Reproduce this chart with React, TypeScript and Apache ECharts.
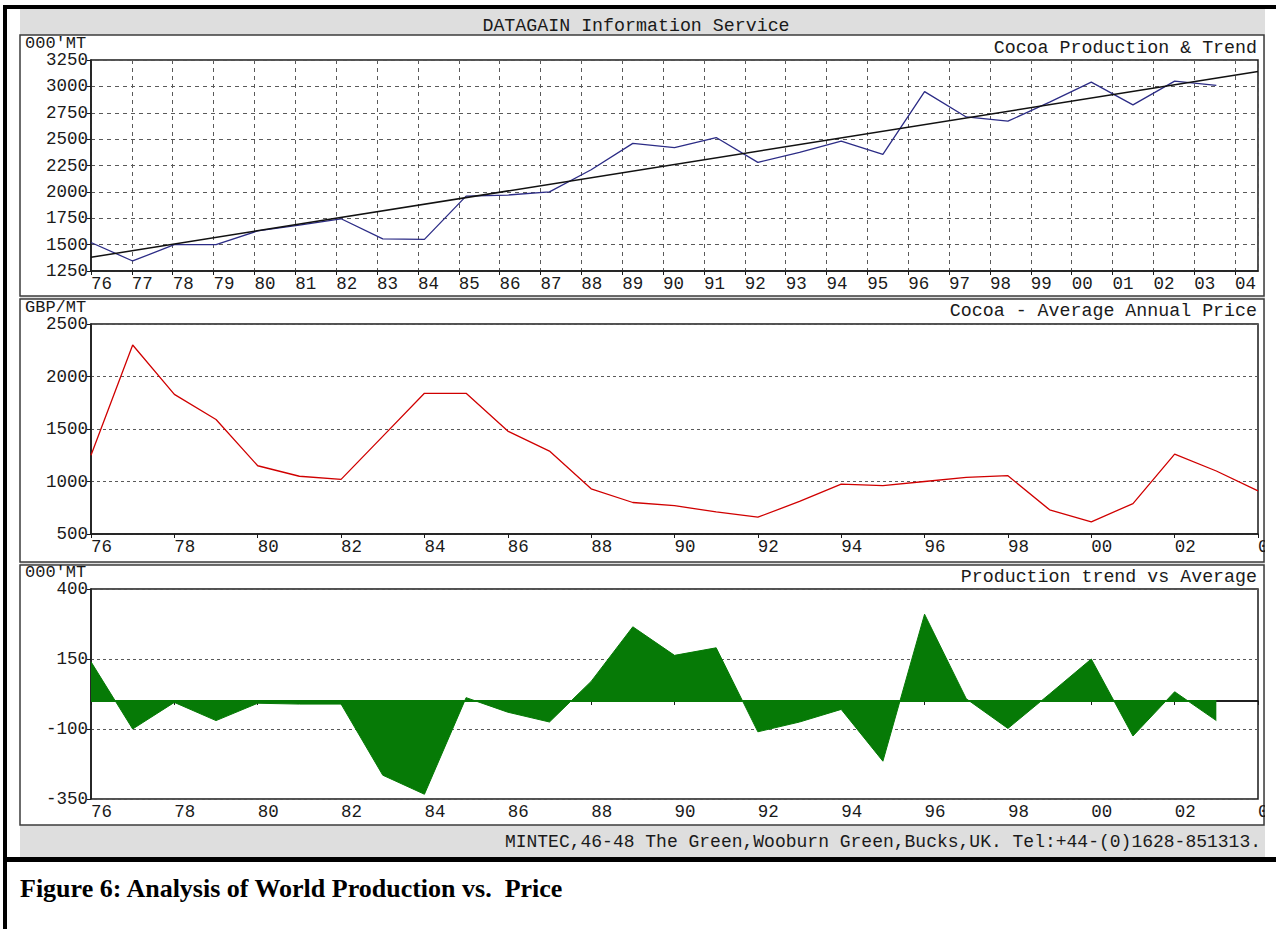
import { useEffect, useRef } from "react";
import * as echarts from "echarts";

// Crop years (last year of the production series is 2003, prices run to 2004)
const YEARS = [
  1976, 1977, 1978, 1979, 1980, 1981, 1982, 1983, 1984, 1985, 1986, 1987, 1988, 1989, 1990,
  1991, 1992, 1993, 1994, 1995, 1996, 1997, 1998, 1999, 2000, 2001, 2002, 2003, 2004,
];

// World cocoa production, '000 MT
const PRODUCTION = [
  1520, 1345, 1500, 1500, 1630, 1685, 1745, 1555, 1550, 1960, 1970, 2000, 2210, 2460,
  2420, 2515, 2280, 2375, 2480, 2355, 2950, 2710, 2670, 2850, 3040, 2825, 3050, 3010,
];

// Linear production trend, end points
const TREND_YEARS = [1976, 2004];
const TREND = [1380, 3140];

// Average annual cocoa price, GBP/MT
const PRICE = [
  1250, 2300, 1830, 1590, 1150, 1050, 1020, 1430, 1840, 1840, 1480, 1290, 930, 800, 770,
  710, 660, 810, 975, 960, 1000, 1040, 1055, 730, 615, 790, 1260, 1100, 910,
];

// Production minus trend, '000 MT
const DEVIATION = [
  140, -100, -5, -70, -8, -11, -11, -265, -333, 12, -40, -75, 70, 265, 163, 190, -110, -75,
  -30, -215, 310, 8, -98, 25, 150, -125, 33, -70,
];

const PRODUCTION_TICKS = [1250, 1500, 1750, 2000, 2250, 2500, 2750, 3000, 3250];
const PRICE_TICKS = [500, 1000, 1500, 2000, 2500];
const DEVIATION_TICKS = [-350, -100, 150, 400];

const MONO = '"Courier New", "Liberation Mono", monospace';
const SERIF = '"Times New Roman", "Liberation Serif", serif';
const INK = "#1a1a1a";
const GRID_DASH = "#5a5a5a";

const yy = (v: number) => (Number.isInteger(v) ? String(v % 100).padStart(2, "0") : "");
const pairs = (xs: number[], ys: number[]) => ys.map((v, i) => [xs[i], v]);

const axisLine = { show: true, lineStyle: { color: INK, width: 1.5 } };
const axisTick = { show: true, inside: false, length: 4, lineStyle: { color: INK, width: 1 } };
const labelFont = { color: INK, fontFamily: MONO, fontSize: 17.5 };

function valueYAxis(gridIndex: number, ticks: number[], dash: number[]) {
  return {
    type: "value",
    gridIndex,
    min: ticks[0],
    max: ticks[ticks.length - 1],
    interval: ticks[1] - ticks[0],
    axisLine,
    axisTick: { ...axisTick, customValues: ticks },
    axisLabel: { ...labelFont, margin: 3, customValues: ticks, formatter: (v: number) => String(v) },
    splitLine: { show: true, lineStyle: { color: GRID_DASH, type: dash, width: 1 } },
  };
}

function yearAxis(gridIndex: number, step: number, showGrid: boolean, max: number) {
  return {
    type: "value",
    gridIndex,
    min: YEARS[0],
    max,
    interval: step,
    axisLine,
    axisTick,
    axisLabel: {
      ...labelFont,
      margin: 4,
      align: "left",
      showMaxLabel: step === 2,
      formatter: yy,
    },
    splitLine: { show: showGrid, lineStyle: { color: GRID_DASH, type: [4, 4], width: 1 } },
  };
}

const text = (
  x: number,
  y: number,
  str: string,
  align: string,
  opts: Record<string, unknown> = {}
) => ({
  type: "text",
  x,
  y,
  z: 20,
  style: {
    text: str,
    fill: INK,
    fontFamily: MONO,
    fontSize: 18.3,
    align,
    textAlign: align,
    verticalAlign: "middle",
    textVerticalAlign: "middle",
    ...opts,
  },
});

const panel = (y: number, h: number) => ({
  type: "rect",
  z: -9,
  shape: { x: 20, y, width: 1244, height: h },
  style: { fill: "#ffffff", stroke: "#3c3c3c", lineWidth: 1.5 },
});

const block = (x: number, y: number, w: number, h: number, fill: string, z: number) => ({
  type: "rect",
  z,
  shape: { x, y, width: w, height: h },
  style: { fill },
});

export default function App() {
  const ref = useRef<HTMLDivElement>(null);

  useEffect(() => {
    if (!ref.current) return;
    const chart = echarts.init(ref.current, null, { renderer: "svg" });
    const lastYear = YEARS[YEARS.length - 1];
    const prodYears = YEARS.slice(0, PRODUCTION.length);

    chart.setOption({
      animation: false,
      backgroundColor: "#ffffff",
      grid: [
        { left: 91, top: 60, width: 1167, height: 211 },
        { left: 91, top: 324, width: 1167, height: 210 },
        { left: 91, top: 589, width: 1167, height: 210 },
      ].map((g) => ({
        ...g,
        show: true,
        borderColor: INK,
        borderWidth: 1.5,
        backgroundColor: "transparent",
        containLabel: false,
        outerBoundsMode: "none",
      })),
      xAxis: [
        // labelled year scale of the production panel
        yearAxis(0, 1, true, 2004.56),
        // data scale of the production panel
        { type: "value", gridIndex: 0, min: YEARS[0], max: lastYear, show: false },
        yearAxis(1, 2, false, lastYear),
        yearAxis(2, 2, false, lastYear),
      ],
      yAxis: [
        valueYAxis(0, PRODUCTION_TICKS, [4, 4]),
        valueYAxis(1, PRICE_TICKS, [3, 3]),
        valueYAxis(2, DEVIATION_TICKS, [3, 3]),
      ],
      series: [
        {
          name: "Production",
          type: "line",
          xAxisIndex: 1,
          yAxisIndex: 0,
          symbol: "none",
          data: pairs(prodYears, PRODUCTION),
          lineStyle: { color: "#2c2c86", width: 1.3 },
          z: 3,
        },
        {
          name: "Trend",
          type: "line",
          xAxisIndex: 1,
          yAxisIndex: 0,
          symbol: "none",
          data: pairs(TREND_YEARS, TREND),
          lineStyle: { color: "#111111", width: 1.5 },
          z: 4,
        },
        {
          name: "Price",
          type: "line",
          xAxisIndex: 2,
          yAxisIndex: 1,
          symbol: "none",
          data: pairs(YEARS, PRICE),
          lineStyle: { color: "#d00000", width: 1.3 },
          z: 3,
        },
        {
          name: "Zero",
          type: "line",
          xAxisIndex: 3,
          yAxisIndex: 2,
          symbol: "none",
          data: [
            [YEARS[0], 0],
            [lastYear, 0],
          ],
          lineStyle: { color: "#111111", width: 1.5 },
          z: 1,
        },
        {
          name: "Trend vs Average",
          type: "line",
          xAxisIndex: 3,
          yAxisIndex: 2,
          symbol: "none",
          data: pairs(prodYears, DEVIATION),
          lineStyle: { color: "#067a06", width: 1 },
          areaStyle: { color: "#067a06", opacity: 1 },
          z: 3,
        },
        {
          name: "Baseline",
          type: "line",
          xAxisIndex: 3,
          yAxisIndex: 2,
          symbol: "none",
          data: [
            [prodYears[0], 0],
            [prodYears[prodYears.length - 1], 0],
          ],
          lineStyle: { color: "#067a06", width: 2 },
          z: 4,
        },
      ],
      graphic: [
        // window background and the three chart panes
        block(20, 9, 1245, 848, "#dedede", -10),
        panel(35, 261),
        panel(299, 263),
        panel(565, 260),
        // page rules
        block(3, 5, 1273, 4, "#000000", 30),
        block(3, 5, 4, 924, "#000000", 30),
        block(3, 857, 1273, 5, "#000000", 30),
        // right margin trims the last year label of the lower panes
        block(1265, 9, 11, 848, "#ffffff", 25),
        text(636, 26, "DATAGAIN Information Service", "center"),
        text(1257, 48, "Cocoa Production & Trend", "right"),
        text(1257, 311, "Cocoa - Average Annual Price", "right"),
        text(1257, 577, "Production trend vs Average", "right"),
        text(25, 43, "000'MT", "left", { fontSize: 17 }),
        text(25, 307, "GBP/MT", "left", { fontSize: 17 }),
        text(25, 572, "000'MT", "left", { fontSize: 17 }),
        text(
          1261,
          842,
          "MINTEC,46-48 The Green,Wooburn Green,Bucks,UK. Tel:+44-(0)1628-851313.",
          "right",
          { fontSize: 18 }
        ),
        text(20, 888, "Figure 6: Analysis of World Production vs.  Price", "left", {
          fontFamily: SERIF,
          fontWeight: "bold",
          fontSize: 26,
          fill: "#000000",
        }),
      ],
    });

    return () => chart.dispose();
  }, []);

  return (
    <div
      ref={ref}
      style={{ position: "absolute", left: 0, top: 0, width: 1276, height: 929 }}
    />
  );
}
